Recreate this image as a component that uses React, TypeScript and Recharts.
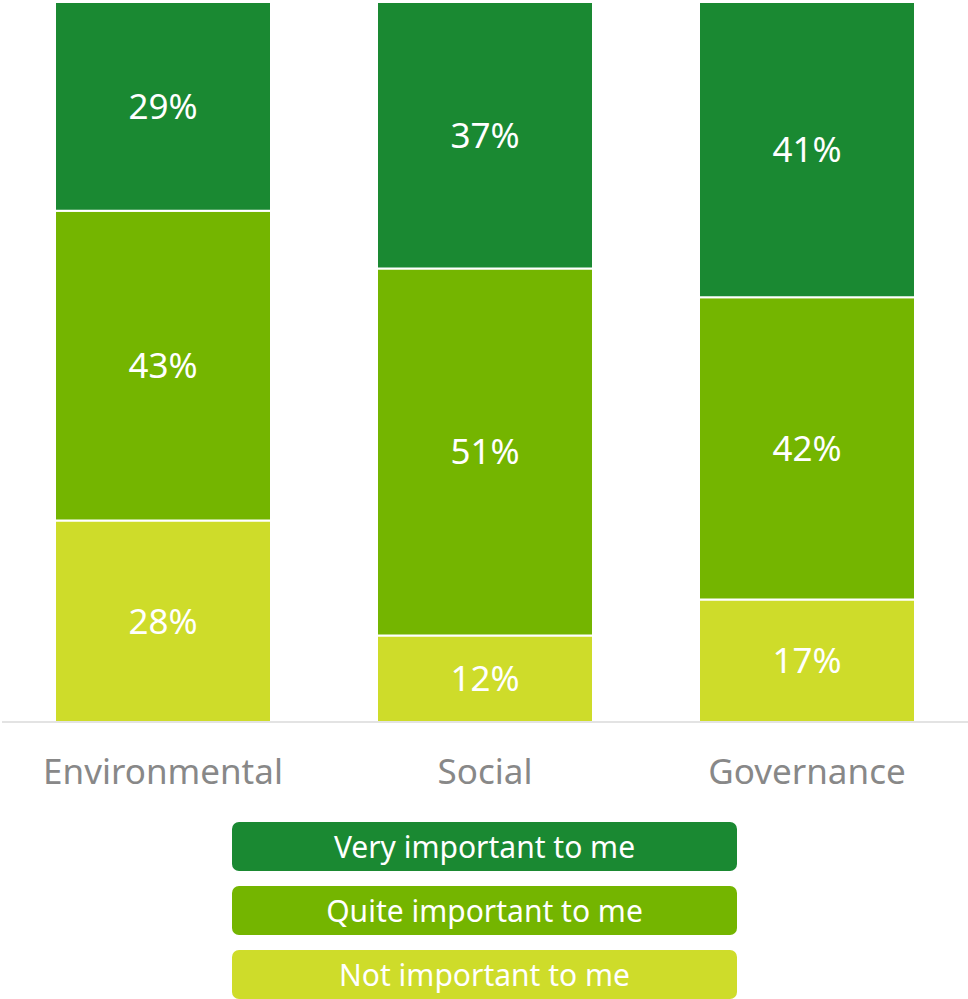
import { BarChart, Bar, XAxis, YAxis, LabelList } from "recharts";

const categories = ["Environmental", "Social", "Governance"];
const veryImportant = [29, 37, 41];
const quiteImportant = [43, 51, 42];
const notImportant = [28, 12, 17];

const series = [
  { key: "very", name: "Very important to me", color: "#1a8932", values: veryImportant },
  { key: "quite", name: "Quite important to me", color: "#74b500", values: quiteImportant },
  { key: "not", name: "Not important to me", color: "#cedc2a", values: notImportant },
];

const data = categories.map((name, i) => ({
  name,
  very: veryImportant[i],
  quite: quiteImportant[i],
  not: notImportant[i],
}));

const FONT = "'Noto Sans', sans-serif";

// bottom-up stacking order: not, quite, very
const stackOrder = [series[2], series[1], series[0]];

export default function App() {
  return (
    <div style={{ position: "absolute", left: 0, top: 0, width: 968, height: 999, fontFamily: FONT }}>
      <BarChart
        width={968}
        height={822}
        data={data}
        margin={{ top: 2, right: 0, left: 2, bottom: 0 }}
        barSize={216}
      >
        <XAxis
          dataKey="name"
          height={100}
          tickLine={false}
          axisLine={{ stroke: "#e3e3e3", strokeWidth: 2 }}
          tick={{ fill: "#888888", fontSize: 35, fontFamily: FONT }}
          tickMargin={31}
        />
        <YAxis hide domain={[0, 100]} />
        {stackOrder.map((s) => (
          <Bar
            key={s.key}
            dataKey={s.key}
            stackId="a"
            fill={s.color}
            stroke="#ffffff"
            strokeWidth={2}
            isAnimationActive={false}
          >
            <LabelList
              dataKey={s.key}
              position="center"
              formatter={(v: number) => `${v}%`}
              fill="#ffffff"
              fontSize={35}
              fontFamily={FONT}
            />
          </Bar>
        ))}
      </BarChart>
      <div style={{ position: "absolute", left: 232, top: 822, width: 505 }}>
        {series.map((s) => (
          <div
            key={s.key}
            style={{
              height: 49,
              marginBottom: 15,
              background: s.color,
              borderRadius: 7,
              color: "#ffffff",
              fontSize: 30,
              lineHeight: "49px",
              textAlign: "center",
            }}
          >
            {s.name}
          </div>
        ))}
      </div>
    </div>
  );
}
